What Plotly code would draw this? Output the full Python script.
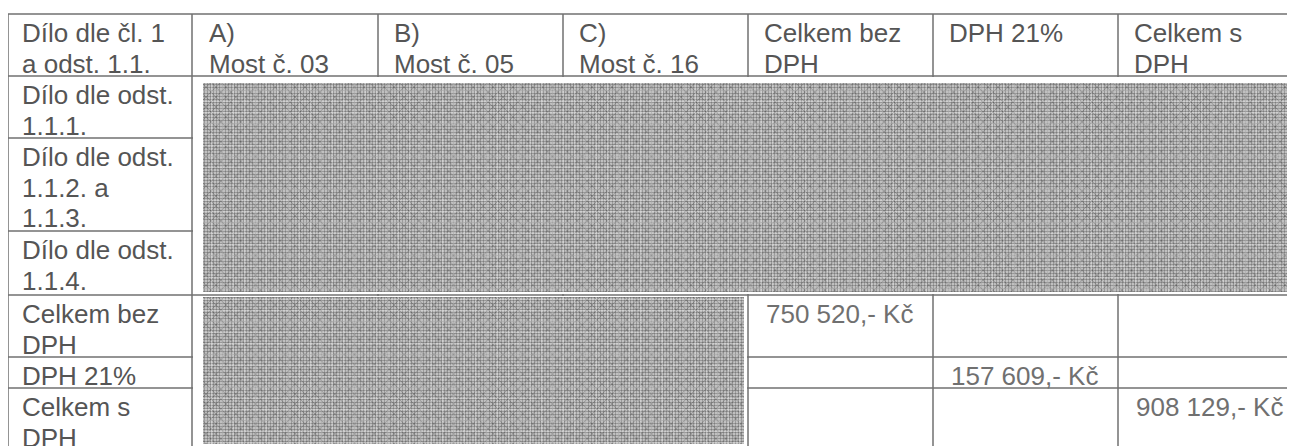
import plotly.graph_objects as go

# ---- data (table content) ----
header_cells = ["Dílo dle čl. 1<br>a odst. 1.1.", "A)<br>Most č. 03", "B)<br>Most č. 05",
                "C)<br>Most č. 16", "Celkem bez<br>DPH", "DPH 21%", "Celkem s<br>DPH"]
row_labels = ["Dílo dle odst.<br>1.1.1.", "Dílo dle odst.<br>1.1.2. a<br>1.1.3.",
              "Dílo dle odst.<br>1.1.4.", "Celkem bez<br>DPH", "DPH 21%", "Celkem s<br>DPH"]
total_labels = ["750 520,- Kč", "157 609,- Kč", "908 129,- Kč"]
total_rows = [3, 4, 5]      # row index (in row_labels) of each total
total_cols = [4, 5, 6]      # column index of each total

# ---- layout geometry (page pixels; the page body has an 8 px margin) ----
W, H = 1295, 446
OFF = 8
col_edges = [8, 192, 378, 563, 748, 933, 1118, 1310]
row_edges = [14, 76, 138, 231, 295, 357, 388, 460]
pad_x = [13, 16, 15, 15, 15, 15, 15]
pad_x_values = 17
pad_y = 3
line_gap = 30.5
font_size = 26
line_col = "#707070"
text_col = "#555555"
value_col = "#707070"

fig = go.Figure()
shapes = []

def hline(y, x0, x1):
    shapes.append(dict(type="line", x0=x0, x1=x1, y0=y, y1=y, xref="x", yref="y",
                       line=dict(color=line_col, width=1.5), layer="below"))

def vline(x, y0, y1):
    shapes.append(dict(type="line", x0=x, x1=x, y0=y0, y1=y1, xref="x", yref="y",
                       line=dict(color=line_col, width=1.5), layer="below"))

for y in row_edges[:-1]:
    hline(y, col_edges[0], W + 5)
for x in col_edges[:-1]:
    vline(x, row_edges[0], H + 5)

fig.update_layout(shapes=shapes)

# redacted (noise) areas drawn as patterned fills
redactions = [((193, 1295), (77, 294)), ((193, 747), (296, 446))]
noise = [((203, 1288), (83, 292)), ((203, 744), (297, 444))]
for (xa, ya) in redactions:
    fig.add_trace(go.Scatter(x=[xa[0], xa[1], xa[1], xa[0], xa[0]],
                             y=[ya[0], ya[0], ya[1], ya[1], ya[0]],
                             mode="none", fill="toself", fillcolor="white",
                             hoverinfo="skip", showlegend=False))
for (xa, ya) in noise:
    xs = [xa[0], xa[1], xa[1], xa[0], xa[0]]
    ys = [ya[0], ya[0], ya[1], ya[1], ya[0]]
    fig.add_trace(go.Scatter(x=xs, y=ys, mode="none", fill="toself",
                             fillpattern=dict(shape=".", size=3, solidity=0.5,
                                              fgcolor="#262626", bgcolor="#d6d6d6"),
                             hoverinfo="skip", showlegend=False))
    fig.add_trace(go.Scatter(x=xs, y=ys, mode="none", fill="toself",
                             fillpattern=dict(shape="x", size=7, solidity=0.25,
                                              fgcolor="rgba(30,30,30,0.55)", bgcolor="rgba(0,0,0,0)"),
                             hoverinfo="skip", showlegend=False))
    fig.add_trace(go.Scatter(x=xs, y=ys, mode="none", fill="toself",
                             fillpattern=dict(shape="+", size=11, solidity=0.15,
                                              fgcolor="rgba(255,255,255,0.6)", bgcolor="rgba(0,0,0,0)"),
                             hoverinfo="skip", showlegend=False))

annotations = []

def cell_text(txt, c, r_top, color, px):
    for i, line in enumerate(txt.split("<br>")):
        annotations.append(dict(x=col_edges[c] + px, y=r_top + pad_y + i * line_gap,
                                xref="x", yref="y", text=line, showarrow=False,
                                xanchor="left", yanchor="top", align="left", borderpad=0,
                                font=dict(family="Liberation Sans, Arial", size=font_size,
                                          color=color)))

for c, t in enumerate(header_cells):
    cell_text(t, c, row_edges[0], text_col, pad_x[c])
for r, t in enumerate(row_labels):
    cell_text(t, 0, row_edges[r + 1], text_col, pad_x[0])
for t, r, c in zip(total_labels, total_rows, total_cols):
    cell_text(t, c, row_edges[r + 1], value_col, pad_x_values)

fig.update_layout(
    annotations=annotations,
    width=W - OFF, height=H - OFF,
    margin=dict(l=0, r=0, t=0, b=0),
    paper_bgcolor="white", plot_bgcolor="white",
    xaxis=dict(range=[OFF, W], visible=False, fixedrange=True),
    yaxis=dict(range=[H, OFF], visible=False, fixedrange=True),
    showlegend=False,
)

fig.write_html("out.html")
